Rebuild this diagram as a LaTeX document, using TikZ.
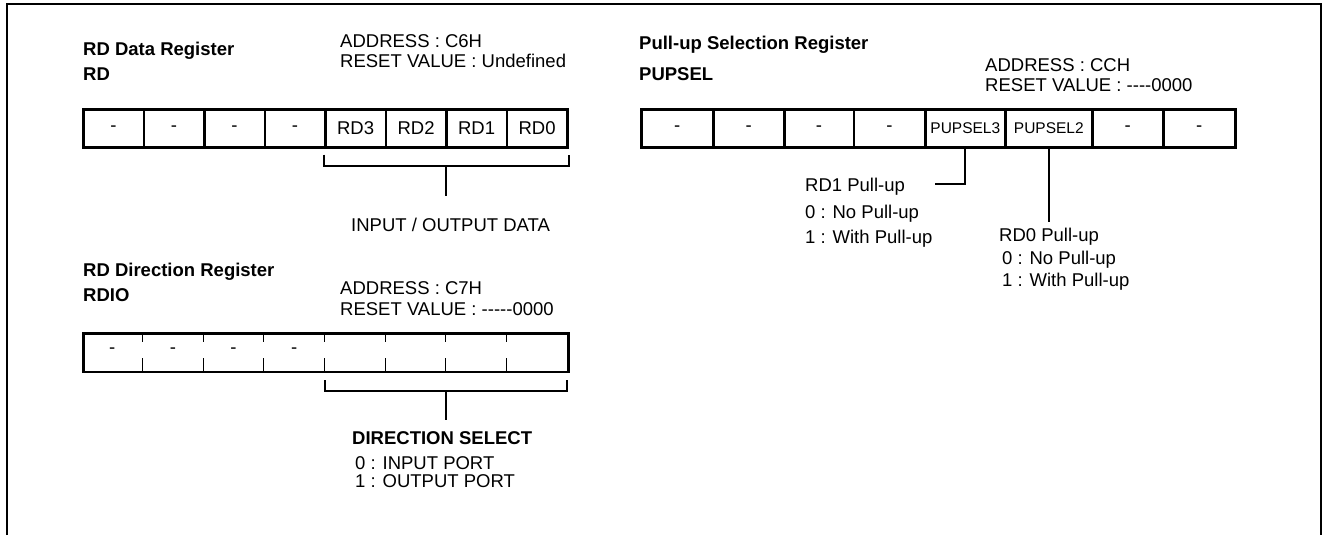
\documentclass[tikz,border=0pt]{standalone}
\usepackage{fontspec}
\setmainfont{Liberation Sans}
\usetikzlibrary{calc}
\newcommand\lblf{\fontsize{18.5}{19}\selectfont}
\newcommand\ttlf{\fontsize{18.5}{19}\selectfont\bfseries}
\newcommand\smlf{\fontsize{15.5}{16}\selectfont}
\begin{document}
\begin{tikzpicture}[x=1pt,y=-1pt,
  txt/.style={anchor=base west, inner sep=0, font=\lblf},
  ttl/.style={anchor=base west, inner sep=0, font=\ttlf},
  cell/.style={draw, line width=2.6pt, minimum height=38pt, inner sep=0, anchor=north west, font=\lblf},
  wire/.style={line width=2pt},
  tickline/.style={line width=0.9pt}]
\useasboundingbox (0,0) rectangle (1324,535);
\draw[line width=2pt] (6.5,535) -- (6.5,4.5) -- (1321,4.5) -- (1321,535);

% ---------- RD data register ----------
\node[ttl] (rdtitle) at (83,56) {RD Data Register};
\node[ttl] (rdname) at (83,80) {RD};
\node[txt] (rdaddr) at (340,48) {ADDRESS : C6H};
\node[txt] (rdreset) at (340,67) {RESET VALUE : Undefined};
\foreach \i/\t in {0/-,1/-,2/-,3/-,4/RD3,5/RD2,6/RD1,7/RD0}
  \node[cell, minimum width=60.5pt] (rd\i) at ({82+60.5*\i},108) {\t};
\coordinate (rdbl) at ([yshift=-6pt]rd4.south west);
\coordinate (rdbr) at ([yshift=-6pt]rd7.south east);
\coordinate (rdmid) at ($(rdbl)!0.5!(rdbr)+(0,11)$);
\coordinate (rdstem) at ($(rdmid)+(0,30)$);
\draw[wire] (rdbl) -- ++(0,11) -| (rdbr);
\draw[wire] (rdmid) -- (rdstem);
\node[txt] (iodata) at (351,231) {INPUT / OUTPUT DATA};

% ---------- RD direction register ----------
\node[ttl] (diotitle) at (83,276) {RD Direction Register};
\node[ttl] (dioname) at (83,301) {RDIO};
\node[txt] (dioaddr) at (340,294) {ADDRESS : C7H};
\node[txt] (dioreset) at (340,315) {RESET VALUE : -{}-{}-{}-{}-0000};
\node[draw, line width=2.8pt, minimum width=485pt, minimum height=38.5pt,
      anchor=north west, inner sep=0] (rdio) at (82,332) {};
\foreach \i in {0,1,2,3}
  \node[font=\lblf, inner sep=0] (io\i) at ({82+60.6*\i+30.3},351) {-};
\foreach \k in {1,...,7}{
  \draw[tickline] ({82+60.6*\k},332) -- ({82+60.6*\k},341.5);
  \draw[tickline] ({82+60.6*\k},358) -- ({82+60.6*\k},371);
}
\coordinate (iobl) at (324.5,380);
\coordinate (iobr) at (567,380);
\coordinate (iomid) at ($(iobl)!0.5!(iobr)+(0,11)$);
\coordinate (iostem) at ($(iomid)+(0,29)$);
\draw[wire] (iobl) -- ++(0,11) -| (iobr);
\draw[wire] (iomid) -- (iostem);
\node[ttl] (dirsel) at (352,444) {DIRECTION SELECT};
\node[txt] (dir0) at (355,469) {0 : INPUT PORT};
\node[txt] (dir1) at (355,487) {1 : OUTPUT PORT};

% ---------- Pull-up selection register ----------
\node[ttl] (putitle) at (639,49) {Pull-up Selection Register};
\node[ttl] (puname) at (639,81) {PUPSEL};
\node[txt] (puaddr) at (985,71) {ADDRESS : CCH};
\node[txt] (pureset) at (985,92) {RESET VALUE : -{}-{}-{}-0000};
\foreach \i/\a/\b/\t in {0/640/712/-,1/712/783/-,2/783/852.5/-,3/852.5/924/-,
    4/924/1004/{\smlf PUPSEL3},5/1004/1091/{\smlf PUPSEL2},6/1091/1162/-,7/1162/1234/-}
  \node[cell, minimum width={(\b-\a)*1pt}] (pu\i) at (\a,108) {\t};
\node[txt] (rd1pu) at (805,191) {RD1 Pull-up};
\node[txt] (rd1a) at (805,218) {0 : No Pull-up};
\node[txt] (rd1b) at (805,243) {1 : With Pull-up};
\coordinate (c3end) at (935,184);
\draw[wire] (pu4.south) |- (c3end);
\node[txt] (rd0pu) at (999,241) {RD0 Pull-up};
\node[txt] (rd0a) at (1002,264) {0 : No Pull-up};
\node[txt] (rd0b) at (1002,286) {1 : With Pull-up};
\coordinate (c2end) at (1049,222);
\draw[wire] (c2end |- pu5.south) -- (c2end);
\end{tikzpicture}
\end{document}
